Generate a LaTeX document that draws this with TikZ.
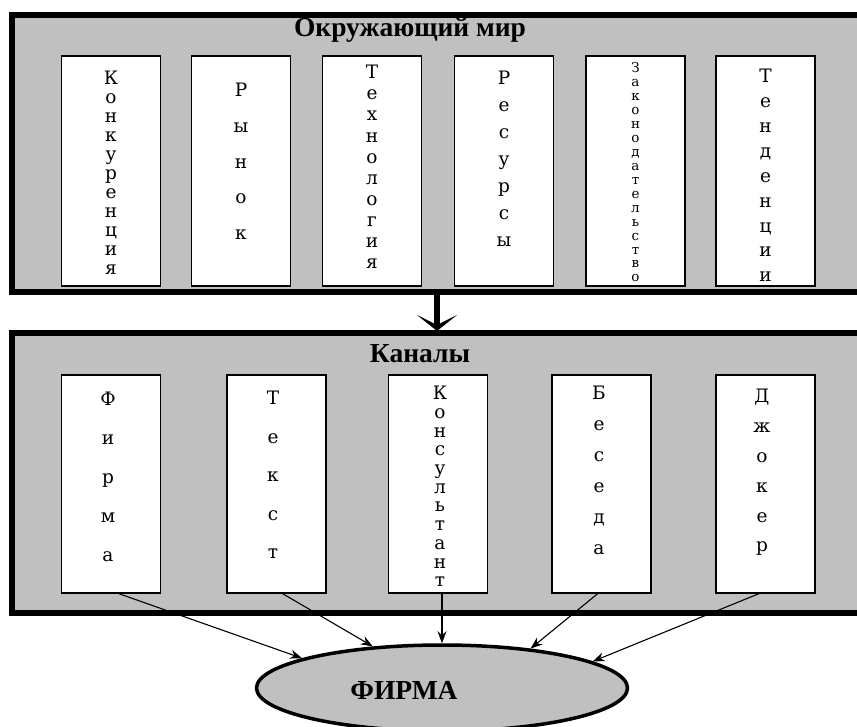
\documentclass[tikz,border=0pt]{standalone}
\usepackage{fontspec}
\setmainfont{Liberation Serif}
\newfontfamily\letterfont{DejaVu Serif}
\usetikzlibrary{shapes.geometric,arrows.meta}
\definecolor{bg}{HTML}{C0C0C0}
\begin{document}
\begin{tikzpicture}[x=1pt,y=-1pt,
  frame/.style={draw=black,line width=6pt,fill=bg,rectangle,inner sep=0pt,outer sep=0pt},
  cell/.style={draw=black,line width=1.6pt,fill=white,rectangle,inner sep=0pt,outer sep=0pt,minimum width=99pt},
  toprow/.style={cell,minimum height=230pt},
  botrow/.style={cell,minimum height=218pt},
  title/.style={font=\fontsize{27.5}{30}\selectfont\bfseries,inner sep=0pt},
  vw/.style={font=\letterfont\fontsize{18.5}{#1}\selectfont,align=center,inner sep=0pt},
  vws/.style={font=\letterfont\fontsize{13.5}{#1}\selectfont,align=center,inner sep=0pt},
  link/.style={line width=1.1pt,-{Stealth[length=12pt,width=9pt]}},
  bigarrow/.style={line width=6pt,-{Stealth[length=16pt,width=40pt,inset=10pt]}}
]
\useasboundingbox (0,0) rectangle (857,727);
\clip (0,0) rectangle (857,727);
% frames
\node[frame,minimum width=860pt,minimum height=277pt] (world) at (442,153.5) {};
\node[frame,minimum width=860pt,minimum height=279.5pt] (chan) at (442,473.25) {};
\node[title] (worldtitle) at (410,30) {Окружающий мир};
\node[title] (chantitle) at (420,354) {Каналы};
% top cells
\node[toprow] (t1) at (111,171) {};
\node[toprow] (t2) at (241,171) {};
\node[toprow] (t3) at (372,171) {};
\node[toprow] (t4) at (504,171) {};
\node[toprow] (t5) at (635.5,171) {};
\node[toprow] (t6) at (765.5,171) {};
\node[vw=19] (w1) at (111,173) {К\\о\\н\\к\\у\\р\\е\\н\\ц\\и\\я};
\node[vw=35.75] (w2) at (241,161.5) {Р\\ы\\н\\о\\к};
\node[vw=21.1] (w3) at (372,167) {Т\\е\\х\\н\\о\\л\\о\\г\\и\\я};
\node[vw=27] (w4) at (504,159) {Р\\е\\с\\у\\р\\с\\ы};
\node[vws=13.93] (w5) at (635.5,172.5) {З\\а\\к\\о\\н\\о\\д\\а\\т\\е\\л\\ь\\с\\т\\в\\о};
\node[vw=24.9] (w6) at (765.5,175.5) {Т\\е\\н\\д\\е\\н\\ц\\и\\и};
% bottom cells
\node[botrow] (b1) at (111,484) {};
\node[botrow] (b2) at (276.5,484) {};
\node[botrow] (b3) at (438,484) {};
\node[botrow] (b4) at (601.5,484) {};
\node[botrow] (b5) at (765.5,484) {};
\node[vw=39] (v1) at (108,477) {Ф\\и\\р\\м\\а};
\node[vw=38.5] (v2) at (273,475) {Т\\е\\к\\с\\т};
\node[vw=18.7] (v3) at (440,486.5) {К\\о\\н\\с\\у\\л\\ь\\т\\а\\н\\т};
\node[vw=31] (v4) at (599,470.5) {Б\\е\\с\\е\\д\\а};
\node[vw=29.8] (v5) at (762,472.5) {Д\\ж\\о\\к\\е\\р};
% big arrow
\coordinate (ax) at (437,0);
\draw[bigarrow] (world.south -| ax) -- ([yshift=2.5pt]chan.north -| ax);
% firm
\node[ellipse,draw=black,line width=3.5pt,fill=bg,minimum width=371pt,minimum height=86pt,inner sep=0pt] (firm) at (442,688) {};
\node[title] (firmtext) at (404,690) {ФИРМА};
% links
\draw[link] ([xshift=6pt]b1.south) -- (firm.168.5);
\draw[link] ([xshift=5pt]b2.south) -- (firm.149.6);
\draw[link] ([xshift=4pt]b3.south) -- (firm.north);
\draw[link] ([xshift=-3pt]b4.south) -- (firm.24.8);
\draw[link] ([xshift=-5pt]b5.south) -- (firm.10.4);
\end{tikzpicture}
\end{document}
